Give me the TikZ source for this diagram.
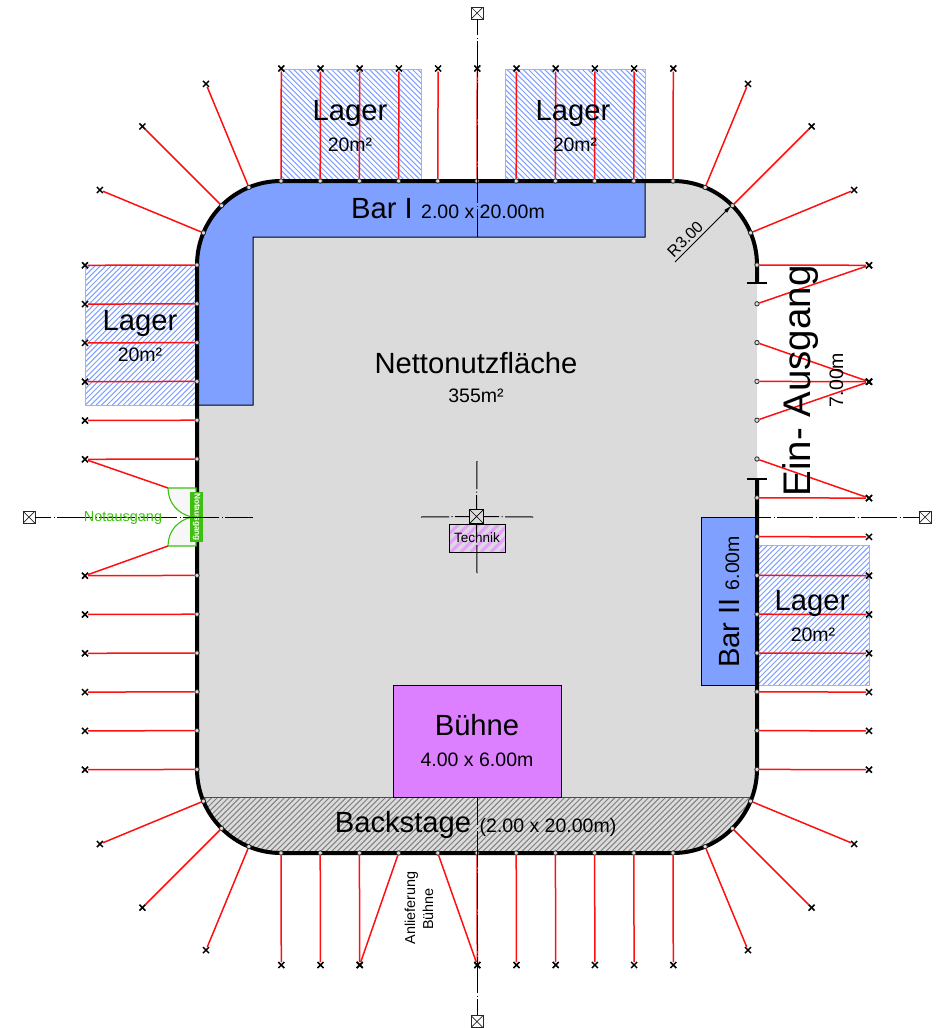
\documentclass[tikz,border=0pt]{standalone}
\usepackage{fontspec}
\setmainfont{Liberation Sans}
\usetikzlibrary{shapes.misc, arrows.meta}

\definecolor{floorgrey}{HTML}{DBDBDB}
\definecolor{barblue}{HTML}{80A0FF}
\definecolor{stagepink}{HTML}{DD80FF}
\definecolor{exitgreen}{HTML}{3FBF10}
\definecolor{guyred}{HTML}{FF1010}

\tikzstyle{room} = [rectangle, draw=black, line width=1pt, inner sep=0pt]
\tikzstyle{lagerbox} = [rectangle, inner sep=0pt, draw=barblue!80, line width=1pt]
\tikzstyle{lagerhatch} = [barblue, line width=1pt]
\tikzstyle{backhatch} = [black!50, line width=1pt]
\tikzstyle{techhatch} = [stagepink!75, line width=3pt]
\tikzstyle{post} = [circle, draw=black!85, fill=floorgrey, line width=0.8pt, minimum size=4.4pt, inner sep=0pt]
\tikzstyle{anchorx} = [cross out, draw=black, line width=1.5pt, minimum size=4.5pt, inner sep=0pt]
\tikzstyle{guy} = [guyred, line width=1.5pt]
\tikzstyle{axisline} = [black, line width=1pt, dash pattern=on 36pt off 2.5pt on 1pt off 2.5pt, dash phase=8pt]
\tikzstyle{axisbox} = [rectangle, draw=black!85, fill=white, line width=0.9pt, minimum size=12pt, inner sep=0pt, path picture={\draw[line width=0.7pt] (path picture bounding box.north west) -- (path picture bounding box.south east) (path picture bounding box.north east) -- (path picture bounding box.south west);}]
\tikzstyle{wall} = [line width=4pt, black]
\tikzstyle{door} = [draw=exitgreen, fill=black!3, line width=1.1pt]
\tikzstyle{arrow} = [line width=0.9pt,-{Latex[length=9pt,width=4pt]}]
\tikzstyle{big} = [anchor=base, inner sep=0pt, font=\fontsize{29.2}{30}\selectfont]
\tikzstyle{mid} = [anchor=base, inner sep=0pt, font=\fontsize{19.5}{22}\selectfont]

% x0, y0, x1, y1, slant (1 or -1), step, style
\newcommand{\hatchbox}[7]{
\begin{scope}
\clip (#1,#2) rectangle (#3,#4);
\pgfmathsetmacro{\hh}{#4-#2}
\pgfmathsetmacro{\hn}{int((#3-#1+\hh)/#6)}
\foreach \n in {0,...,\hn}
  \draw [#7] ({#1-\hh+\n*#6+(#5<0?\hh:0)},#2) -- ({#1-\hh+\n*#6+(#5<0?0:\hh)},#4);
\end{scope}
}

\begin{document}
\begin{tikzpicture}[x=1pt,y=-1pt]
\useasboundingbox (0,0) rectangle (941,1028);

\fill [floorgrey, rounded corners=84pt] (197,181) rectangle (757,853);

\begin{scope}
\clip [rounded corners=84pt] (197,181) rectangle (757,853);
\hatchbox{190}{797}{765}{860}{-1}{5.6}{backhatch}
\draw [black!70, line width=1pt] (190,797) -- (765,797);
\end{scope}

\hatchbox{281}{69}{421}{181}{1}{5.4}{lagerhatch}
\hatchbox{505}{69}{645}{181}{1}{5.4}{lagerhatch}
\hatchbox{85}{265}{197}{405}{-1}{5.4}{lagerhatch}
\hatchbox{757}{545}{869}{685}{-1}{5.4}{lagerhatch}
\node (lager1) [lagerbox, minimum width=140pt, minimum height=112pt] at (351,125) {};
\node (lager2) [lagerbox, minimum width=140pt, minimum height=112pt] at (575,125) {};
\node (lager3) [lagerbox, minimum width=112pt, minimum height=140pt] at (141,335) {};
\node (lager4) [lagerbox, minimum width=112pt, minimum height=140pt] at (813,615) {};

\draw [fill=barblue, line width=1pt] (197,405) [rounded corners=84pt] -- (197,181) [sharp corners] -- (645,181) -- (645,237) -- (253,237) -- (253,405) -- cycle;
\node (bar2) [room, fill=barblue, minimum width=56pt, minimum height=168pt] at (729,601) {};
\node (stage) [room, fill=stagepink, minimum width=168pt, minimum height=112pt] at (477,741) {};
\hatchbox{449}{524}{505}{552}{-1}{10}{techhatch}
\node (tech) [room, minimum width=56pt, minimum height=28pt] at (477,538) {};

\draw [wall, rounded corners=84pt] (757,479) -- (757,853) -- (197,853) -- (197,181) -- (757,181) -- (757,283);
\draw [black, line width=2.5pt] (747,283) -- (767,283);
\draw [black, line width=2.5pt] (747,479) -- (767,479);

\foreach \y [count=\i] in {265,303.8,342.6,381.4,420.2,459,575.4,614.2,653,691.8,730.6,769.4}
{
  \node (wpost\i) [post] at (197,\y) {};
  \node (wend\i) [anchorx] at (85,\y+0.3) {};
  \draw [guy] (wpost\i) -- (wend\i);
}
\foreach \y/\e [count=\i] in {265/265,303.8/265,342.6/381.4,381.4/381.4,420.2/381.4,459/497.8,497.8/497.8,536.6/536.6,575.4/575.4,614.2/614.2,653/653,691.8/691.8,730.6/730.6,769.4/769.4}
{
  \node (epost\i) [post] at (757,\y) {};
  \node (eend\i) [anchorx] at (869,\e+0.3) {};
  \draw [guy] (epost\i) -- (eend\i);
}
\foreach \x [count=\i] in {281,320.2,359.4,398.6,437.8,477,516.2,555.4,594.6,633.8,673}
{
  \node (npost\i) [post] at (\x,181) {};
  \node (nend\i) [anchorx] at (\x+0.3,68.5) {};
  \draw [guy] (npost\i) -- (nend\i);
}
\foreach \x/\e [count=\i] in {281/281,320.2/320.2,359.4/359.4,398.6/359.4,437.8/477,477/477,516.2/516.2,555.4/555.4,594.6/594.6,633.8/633.8,673/673}
{
  \node (spost\i) [post] at (\x,853) {};
  \node (send\i) [anchorx] at (\e+0.3,965) {};
  \draw [guy] (spost\i) -- (send\i);
}
\foreach \cx/\cy/\s [count=\k] in {673/265/-90,673/769/0,281/769/90,281/265/180}
  \foreach \d [count=\j] in {22.5,45,67.5}
  {
    \node (cpost\k\j) [post] at ([shift={(\s+\d:84)}]\cx,\cy) {};
    \node (cend\k\j) [anchorx] at ([shift={(\s+\d:196)}]\cx,\cy) {};
    \draw [guy] (cpost\k\j) -- (cend\k\j);
  }

\coordinate (door1) at (168,488);
\coordinate (door2) at (168,546);
\draw [door] (door1) -- (196,488) -- (196,517) -- (192,517) .. controls (178,514) and (168,503) .. (door1);
\draw [door] (door2) -- (196,546) -- (196,517) -- (192,517) .. controls (178,520) and (168,531) .. (door2);
\draw [guy] (wend6) -- (door1);
\draw [guy] (wend7) -- (door2);
\node (sign) [rectangle, fill=exitgreen, minimum width=13pt, minimum height=50pt, inner sep=0pt] at (196.5,517) {};
\node (signtxt) [white, rotate=-90, inner sep=0pt, font=\fontsize{8.3}{8}\selectfont\bfseries] at (196.5,517) {Notausgang};

\node (boxn) [axisbox] at (477,13) {};
\node (boxs) [axisbox] at (477,1021.5) {};
\node (boxw) [axisbox] at (29,517) {};
\node (boxe) [axisbox] at (925,517) {};
\coordinate (axn) at (477,237);
\coordinate (axs) at (477,797);
\coordinate (axw) at (253,517);
\coordinate (axe) at (701,517);
\coordinate (cenn) at (477,461);
\coordinate (cens) at (477,573);
\coordinate (cenw) at (421,517);
\coordinate (cene) at (533,517);
\draw [axisline] (axn) -- (boxn);
\draw [axisline] (axs) -- (boxs);
\draw [axisline] (axw) -- (boxw);
\draw [axisline] (axe) -- (boxe);
\node (boxc) [rectangle, draw=black, line width=0.9pt, minimum size=14.5pt, inner sep=0pt, path picture={\draw[line width=0.7pt] (path picture bounding box.north west) -- (path picture bounding box.south east) (path picture bounding box.north east) -- (path picture bounding box.south west);}] at (476.5,516.5) {};
\draw [axisline] (cenn) -- (boxc);
\draw [axisline] (cens) -- (boxc);
\draw [axisline] (cenw) -- (boxc);
\draw [axisline] (cene) -- (boxc);

\coordinate (rstart) at (675,262);
\coordinate (rtip) at (732,205);
\draw [arrow] (rstart) -- (rtip);
\node (rlabel) [anchor=base, inner sep=0pt, rotate=45, font=\fontsize{16}{16}\selectfont] at (689,243) {R3.00};

\node (l1) [big] at (350,120) {Lager};
\node (m1) [mid] at (350,151) {20m²};
\node (l2) [big] at (573,120) {Lager};
\node (m2) [mid] at (575,151) {20m²};
\node (l3) [big] at (140,330) {Lager};
\node (m3) [mid] at (140,361) {20m²};
\node (l4) [big] at (812,610) {Lager};
\node (m4) [mid] at (813,641) {20m²};
\node (barone) [big] at (382,218) {Bar I};
\node (barone2) [mid] at (483,218) {2.00 x 20.00m};
\node (net) [big] at (476,373) {Nettonutzfläche};
\node (net2) [mid] at (476,402) {355m²};
\node (stagetxt) [big] at (477,735) {Bühne};
\node (stage2) [mid] at (477,766) {4.00 x 6.00m};
\node (back) [big] at (403,832) {Backstage};
\node (back2) [mid] at (548,832) {(2.00 x 20.00m)};
\node (techtxt) [anchor=base, inner sep=0pt, font=\fontsize{13.5}{14}\selectfont] at (477,542) {Technik};
\node (exit) [anchor=base, inner sep=0pt, exitgreen, font=\fontsize{14.5}{15}\selectfont] at (123,521) {Notausgang};
\node (entry) [anchor=base, inner sep=0pt, rotate=90, font=\fontsize{38.5}{40}\selectfont] at (810,381) {Ein- Ausgang};
\node (entry2) [mid, rotate=90] at (843,380) {7.00m};
\node (bartwo) [big, rotate=90] at (739,633) {Bar II};
\node (bartwo2) [mid, rotate=90] at (739,563) {6.00m};
\node (del1) [anchor=base, inner sep=0pt, rotate=90, font=\fontsize{14.4}{15}\selectfont] at (415,908) {Anlieferung};
\node (del2) [anchor=base, inner sep=0pt, rotate=90, font=\fontsize{14.4}{15}\selectfont] at (433,909) {Bühne};

\end{tikzpicture}
\end{document}
